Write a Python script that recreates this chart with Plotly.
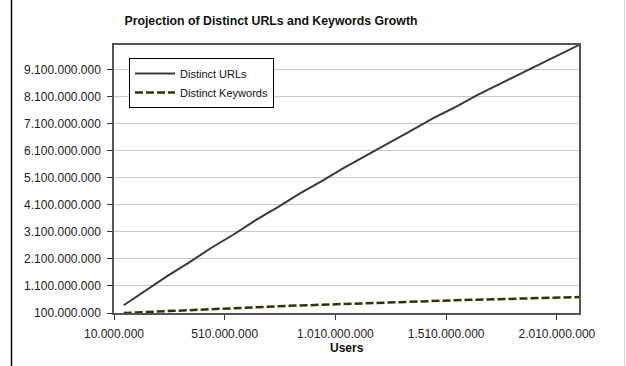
import plotly.graph_objects as go

# Projected growth figures (users on x, distinct counts on y)
users = [54_000_000, 150_000_000, 250_000_000, 350_000_000, 450_000_000, 550_000_000,
         650_000_000, 750_000_000, 850_000_000, 950_000_000, 1_050_000_000, 1_150_000_000,
         1_250_000_000, 1_350_000_000, 1_450_000_000, 1_550_000_000, 1_650_000_000,
         1_750_000_000, 1_850_000_000, 1_950_000_000, 2_050_000_000, 2_110_000_000]
distinct_urls = [385_000_000, 910_000_000, 1_460_000_000, 1_970_000_000, 2_510_000_000,
                 3_000_000_000, 3_530_000_000, 4_010_000_000, 4_520_000_000, 4_980_000_000,
                 5_470_000_000, 5_920_000_000, 6_390_000_000, 6_830_000_000, 7_290_000_000,
                 7_700_000_000, 8_150_000_000, 8_550_000_000, 8_970_000_000, 9_380_000_000,
                 9_760_000_000, 10_000_000_000]
distinct_keywords = [100_000_000, 130_000_000, 170_000_000, 210_000_000, 250_000_000,
                     280_000_000, 310_000_000, 350_000_000, 380_000_000, 410_000_000,
                     440_000_000, 460_000_000, 490_000_000, 520_000_000, 540_000_000,
                     570_000_000, 590_000_000, 610_000_000, 630_000_000, 650_000_000,
                     670_000_000, 690_000_000]

chart_title = "Projection of Distinct URLs and Keywords Growth"
x_title = "Users"

W, H = 626, 366
L, R, T, B = 114, 47, 45, 53
pw, ph = W - L - R, H - T - B

def px_x(p):
    return (p - L) / pw

def px_y(p):
    return (H - B - p) / ph

fig = go.Figure()
fig.add_trace(go.Scatter(
    x=users, y=distinct_urls, mode="lines", name="Distinct URLs",
    line=dict(color="#3a3a3a", width=2),
))
fig.add_trace(go.Scatter(
    x=users, y=distinct_keywords, mode="lines", name="Distinct Keywords",
    line=dict(color="#333300", width=2.5, dash="8px,3px"),
))

axis_font = dict(family="Liberation Sans, Arial, sans-serif", size=12, color="#222222")

fig.update_layout(
    width=W, height=H,
    margin=dict(l=L, r=R, t=T, b=B),
    paper_bgcolor="white", plot_bgcolor="white",
    separators=",.",
    font=dict(family="Liberation Sans, Arial, sans-serif", color="#222222"),
    title=dict(
        text="<b>" + chart_title + "</b>",
        x=271 / W, xanchor="center", xref="container",
        y=1 - 21 / H, yanchor="middle", yref="container",
        font=dict(family="Liberation Sans, Arial, sans-serif", size=12.3, color="#111111"),
    ),
    xaxis=dict(
        range=[10_000_000, 2_110_000_000],
        tick0=10_000_000, dtick=500_000_000, tickformat=",d",
        showgrid=False, zeroline=False,
        showline=True, mirror=True, linecolor="#555555", linewidth=1.5,
        ticks="outside", ticklen=5, tickcolor="#333333",
        ticklabelstandoff=4,
        tickfont=axis_font,
    ),
    yaxis=dict(
        range=[100_000_000, 10_000_000_000],
        tick0=100_000_000, dtick=1_000_000_000, tickformat=",d",
        showgrid=True, gridcolor="#c8c8c8", gridwidth=1, zeroline=False,
        showline=True, mirror=True, linecolor="#555555", linewidth=1.5,
        ticks="outside", ticklen=5, tickcolor="#333333",
        ticklabelstandoff=4,
        tickfont=axis_font,
    ),
    legend=dict(
        x=px_x(129), y=px_y(58), xanchor="left", yanchor="top",
        bgcolor="white", bordercolor="#000000", borderwidth=1,
        font=dict(family="Liberation Sans, Arial, sans-serif", size=11, color="#111111"),
        itemwidth=40,
    ),
    showlegend=True,
    annotations=[dict(
        text="<b>" + x_title + "</b>", xref="paper", yref="paper",
        x=0.5, y=px_y(348), xanchor="center", yanchor="middle", showarrow=False,
        font=dict(family="Liberation Sans, Arial, sans-serif", size=12, color="#111111"),
    )],
    shapes=[
        dict(type="line", xref="paper", yref="paper",
             x0=px_x(11.5), x1=px_x(11.5), y0=px_y(H), y1=px_y(0),
             line=dict(color="#000000", width=1.5)),
        dict(type="line", xref="paper", yref="paper",
             x0=px_x(624.5), x1=px_x(624.5), y0=px_y(H), y1=px_y(0),
             line=dict(color="#d8d8d8", width=1)),
    ],
)

fig.write_html("out.html")
